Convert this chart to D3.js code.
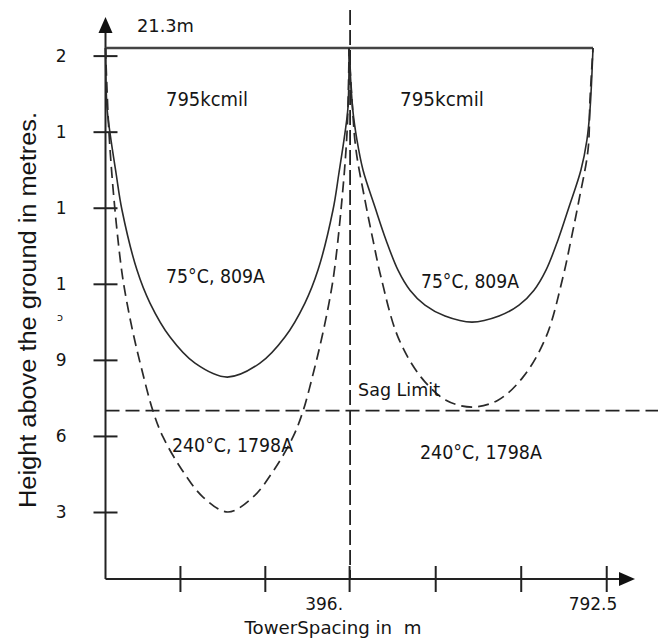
<!DOCTYPE html>
<html>
<head>
<meta charset="utf-8">
<script src="https://cdn.jsdelivr.net/npm/d3@7/dist/d3.min.js"></script>
<style>
body{margin:0;background:#fff;}
text{font-family:"DejaVu Sans",sans-serif;fill:#151515;}
</style>
</head>
<body>
<div id="chart"></div>
<script>
// towers (m) and heights (m)
const towerSpacing = [0, 396, 792.5];
const towerHeight = 21.3;
const sagLimit = 7.0;

const yTicks = [21, 18, 15, 12, 9, 6, 3];
const yTickLabels = ["2", "1", "1", "1", "9", "6", "3"];
const xTicks = [121, 259, 396, 536, 675, 814];
const xLabelValues = [396, 792.5];
const xLabelTexts = ["396.", "792.5"];

// conductor profiles [distance m, height m]
// 75°C, 809A (solid)
const cond75Span1 = [[0,21.3],[2.4,18.97],[7.3,17.95],[17.1,16.37],[26.8,14.91],[51.2,12.54],[72.3,11.24],
  [104.9,9.9],[145.5,8.87],[198,8.32],[251.1,8.87],[291.7,9.9],[324.2,11.24],[345.4,12.54],[369.8,14.91],
  [379.5,16.37],[389.3,17.95],[394.2,18.97],[396,21.3]];
const cond75Span2 = [[396,21.3],[402,18.86],[408.8,17.67],[418.6,16.49],[438,15.03],[456,13.73],[475.5,12.54],
  [495,11.75],[519.4,11.16],[551.9,10.73],[595.8,10.49],[639.7,10.73],[672.2,11.16],[696.6,11.75],[716.1,12.54],
  [735.6,13.73],[753.5,15.03],[772.9,16.49],[782.6,17.67],[787.6,18.86],[792.5,21.3]];
// 240°C, 1798A (dashed)
const cond240Span1 = [[0,21.3],[5.7,17.95],[15.4,14.91],[26.8,12.43],[35,11.24],[46.3,9.9],[59.3,8.59],
  [77.2,6.98],[93.5,5.96],[124.4,4.66],[158.5,3.59],[199,3.0],[239.8,3.59],[273.9,4.66],[304.8,5.96],
  [321.1,6.98],[339,8.59],[351.9,9.9],[363.3,11.24],[371.5,12.43],[382.8,14.91],[392.6,17.95],[396,21.3]];
const cond240Span2 = [[396,21.3],[400.7,19.25],[407.2,17.28],[421.8,15.3],[434.8,13.73],[447.8,12.27],
  [475.5,9.9],[512.9,8.32],[553.5,7.41],[595.8,7.14],[638,7.41],[678.7,8.32],[716.1,9.9],[743.7,12.27],
  [756.7,13.73],[769.7,15.3],[784.4,17.28],[787.6,19.25],[792.5,21.3]];

const width = 661, height = 639;
const axisY = 579;

const svg = d3.select("#chart").append("svg")
  .attr("width", width)
  .attr("height", height);

svg.append("rect").attr("width", width).attr("height", height).attr("fill", "#fff");

const x = d3.scaleLinear().domain([0, 792.5]).range([105.5, 593]);
const y = d3.scaleLinear().domain([3, 21.3]).range([512, 48]);

const x0 = x(0);

// y axis
const yAxis = svg.append("g")
  .attr("transform", "translate(" + x0 + ",0)")
  .call(d3.axisLeft(y).tickValues(yTicks).tickSize(12).tickPadding(27)
    .tickFormat((d, i) => yTickLabels[i]));
yAxis.select(".domain").remove();
yAxis.selectAll(".tick line").attr("x1", 12).attr("stroke", "#222").attr("stroke-width", 2);
yAxis.selectAll(".tick text").style("font-size", "17px").attr("fill", "#151515")
  .style("font-family", "DejaVu Sans");

// x axis
const xAxis = svg.append("g")
  .attr("transform", "translate(0," + axisY + ")")
  .call(d3.axisBottom(x).tickValues(xTicks).tickSize(13).tickFormat(""));
xAxis.select(".domain").remove();
xAxis.selectAll(".tick line").attr("y1", -13).attr("stroke", "#222").attr("stroke-width", 2);

// axis lines + arrow heads
svg.append("line").attr("x1", x0).attr("x2", x0).attr("y1", axisY).attr("y2", 30)
  .attr("stroke", "#222").attr("stroke-width", 2);
svg.append("path").attr("d", `M${x0},17 L${x0-7},33 L${x0+7},33 Z`).attr("fill", "#111");
svg.append("line").attr("x1", x0).attr("x2", 622).attr("y1", axisY).attr("y2", axisY)
  .attr("stroke", "#222").attr("stroke-width", 2);
svg.append("path").attr("d", `M635,${axisY} L619,${axisY-7} L619,${axisY+7} Z`).attr("fill", "#111");

// tower top line
svg.append("line")
  .attr("x1", x(towerSpacing[0])).attr("x2", x(towerSpacing[2]))
  .attr("y1", y(towerHeight)).attr("y2", y(towerHeight))
  .attr("stroke", "#444").attr("stroke-width", 2.5);

// mid tower dashed line
svg.append("line")
  .attr("x1", x(towerSpacing[1]) + 1).attr("x2", x(towerSpacing[1]) + 1)
  .attr("y1", 10).attr("y2", axisY)
  .attr("stroke", "#222").attr("stroke-width", 1.8).attr("stroke-dasharray", "15,5");

// sag limit
svg.append("line")
  .attr("x1", x0).attr("x2", 658)
  .attr("y1", y(sagLimit)).attr("y2", y(sagLimit))
  .attr("stroke", "#222").attr("stroke-width", 1.8).attr("stroke-dasharray", "14,6");

const line = d3.line()
  .x(d => x(d[0]))
  .y(d => y(d[1]))
  .curve(d3.curveCatmullRom.alpha(0.5));

[cond75Span1, cond75Span2].forEach(s => {
  svg.append("path").attr("d", line(s)).attr("fill", "none")
    .attr("stroke", "#2a2a2a").attr("stroke-width", 1.6);
});
[cond240Span1, cond240Span2].forEach(s => {
  svg.append("path").attr("d", line(s)).attr("fill", "none")
    .attr("stroke", "#2a2a2a").attr("stroke-width", 1.7).attr("stroke-dasharray", "11,6");
});

// annotations
function note(txt, xm, hm, len, size, anchor) {
  svg.append("text")
    .attr("x", x(xm)).attr("y", y(hm))
    .attr("text-anchor", anchor || "middle")
    .attr("textLength", len).attr("lengthAdjust", "spacingAndGlyphs")
    .style("font-size", size + "px")
    .text(txt);
}
note("21.3m", 97.5, 21.93, 57, 17);
note("795kcmil", 165, 19.01, 82, 19);
note("795kcmil", 547, 19.01, 84, 19);
note("75°C, 809A", 178.8, 12.03, 99, 19);
note("75°C, 809A", 592.5, 11.83, 98, 19);
note("Sag Limit", 410.5, 7.57, 82, 18, "start");
note("240°C, 1798A", 206.5, 5.37, 121, 19);
note("240°C, 1798A", 610.4, 5.09, 122, 19);

// stray glyph near y axis
svg.append("text").attr("x", 60).attr("y", 321).attr("text-anchor", "middle")
  .style("font-size", "11px").text("ɔ");

// x labels
xLabelValues.forEach((v, i) => {
  svg.append("text")
    .attr("x", i === 0 ? x(v) - 6 : x(v))
    .attr("y", 610)
    .attr("text-anchor", i === 0 ? "end" : "middle")
    .style("font-size", "17px")
    .text(xLabelTexts[i]);
});

// axis titles
svg.append("text")
  .attr("x", 333).attr("y", 634)
  .attr("text-anchor", "middle")
  .attr("textLength", 177).attr("lengthAdjust", "spacingAndGlyphs")
  .style("font-size", "18px").style("white-space", "pre")
  .text("TowerSpacing in  m");

svg.append("text")
  .attr("transform", "translate(36,310) rotate(-90)")
  .attr("text-anchor", "middle")
  .attr("textLength", 396).attr("lengthAdjust", "spacingAndGlyphs")
  .style("font-family", "Liberation Sans").style("font-size", "23px").attr("fill", "#2a2a2a")
  .text("Height above the ground in metres.");
</script>
</body>
</html>
